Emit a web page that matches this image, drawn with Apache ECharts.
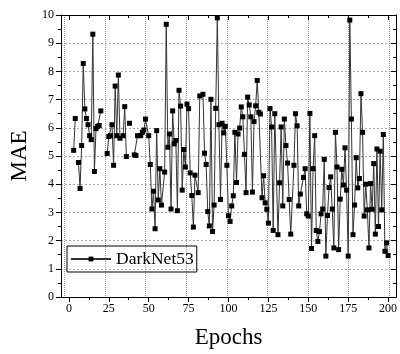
<!DOCTYPE html>
<html>
<head>
<meta charset="utf-8">
<script src="https://cdn.jsdelivr.net/npm/echarts@6/dist/echarts.min.js"></script>
<style>
  html, body { margin: 0; padding: 0; background: #fff; }
  #chart { width: 400px; height: 354px; }
</style>
</head>
<body>
<div id="chart"></div>
<script>
// Validation MAE per training epoch (null = epoch not recorded, line breaks there)
const epochs = [
  3, 4, 5,
  6, 7, 8, 9, 10, 11, 12, 13, 14, 15, 16, 17, 18, 19, 20, 22,
  24, 25, 26, 27, 28, 29, 30, 31, 32, 34, 35, 36, 37,
  38, 39,
  41, 42, 43, 45, 46, 47, 48,
  50, 51, 52, 53, 54, 55, 56, 57, 58, 60, 61, 62, 63, 64, 65, 66, 67, 68, 69, 70,
  71, 72, 73, 74, 75, 76, 77, 78, 79, 81, 82, 84, 85, 86, 87, 88, 89, 90,
  91, 92, 93, 94, 95, 96, 97, 98, 99, 100, 101, 102, 103, 104, 105, 106, 107, 108, 109, 110,
  111, 112, 113, 114, 115, 116, 117, 118, 119, 120, 121, 122, 123, 124, 125, 126, 127, 128, 129, 131,
  132, 133, 134, 135, 136, 137, 138, 139, 141, 142, 143, 144, 145, 147, 148, 149, 150,
  151, 152, 153, 154, 155, 156, 157, 158, 159, 160, 161, 162, 163, 164, 165, 166, 167, 168, 169, 170,
  171, 172, 173, 174, 175, 176, 177, 178, 179, 180, 181, 182, 183, 184, 185, 186, 187, 188, 189, 190,
  191, 192, 193, 194, 195, 196, 197, 198, 199, 200
];
const mae = [
  5.2, 6.33, null,
  4.77, 3.85, 5.37, 8.28, 6.67, 6.33, 6.11, 5.72, 5.58, 9.32, 4.45, 5.97, 6.05, 6.08, 6.6, null,
  5.09, 5.69, 5.72, 6.11, 4.67, 7.48, 5.72, 7.87, 5.63, 5.72, 6.75, 4.98, null,
  6.16, null,
  5.04, 5.02, 5.72, 5.72, 5.84, 5.92, 6.31,
  5.72, 4.7, 3.12, 3.75, 2.42, 5.9, 3.44, 4.55, 3.26, 4.43, 9.67, 5.31, 5.78, 3.12, 6.6, 5.43, 5.55, 3.06, 7.33, 6.77,
  3.79, 5.23, 4.61, 6.84, 6.68, 4.4, 3.6, 2.48, 4.32, 3.7, 7.13, 7.19, 5.1, 4.7, 3.03, 2.52, 7.01, 2.32,
  3.26, 6.69, 9.9, 6.11, 3.46, 6.16, 5.82, 6.05, 4.67, 2.88, 2.68, 3.23, 3.59, 5.84, 4.06, 5.78, 5.99, 6.74, 6.39, 5.06,
  3.7, 7.09, 6.81, 6.39, 3.72, 6.22, 6.78, 7.68, 6.55, 6.49, 3.52, 4.3, 3.34, 3.11, 2.62, 6.68, 6.03, 2.36, 6.5, 2.21,
  4.05, 6.03, 3.23, 6.31, 5.37, 4.75, 3.46, 2.23, 4.67, 6.5, 6.07, 3.23, 3.65, 4.24, 4.55, 2.95, 2.87,
  6.51, 1.72, 4.55, 5.72, 2.36, 1.97, 2.32, 2.95, 3.12, 4.88, 1.45, 2.89, 3.88, 4.26, 3.12, 1.74, 5.84, 4.61, 1.68, 3.47,
  4.53, 3.97, 5.29, 3.79, 1.45, 9.82, 6.31, 2.21, 3.26, 4.94, 3.87, 4.2, 7.21, 5.84, 2.87, 4.0, 3.09, 1.74, 4.02, 3.11,
  4.73, 2.23, 5.25, 2.5, 5.17, 3.09, 5.76, 1.62, 1.92, 1.47
];
const xMajorTicks = [0, 25, 50, 75, 100, 125, 150, 175, 200];
const xMinorTicks = [12.5, 37.5, 62.5, 87.5, 112.5, 137.5, 162.5, 187.5];
const seriesName = 'DarkNet53';

const FONT = 'Liberation Serif, Times New Roman, serif';
const X_MIN = -5, X_MAX = 205;

// plot frame in pixels
const G = { left: 56.5, right: 3, top: 15, bottom: 54.5 };
const plotW = 400 - G.left - G.right;
const pxPerUnit = plotW / (X_MAX - X_MIN);
// inner grid spanning exactly 0..200 so its split lines land on the major epoch ticks
const G2 = {
  left: G.left + (0 - X_MIN) * pxPerUnit,
  right: G.right + (X_MAX - 200) * pxPerUnit,
  top: G.top, bottom: G.bottom
};

function xAxisDef(position, values, len, inside, extra) {
  return Object.assign({
    type: 'value', min: X_MIN, max: X_MAX, position: position, gridIndex: 1,
    axisLine: { show: true, onZero: false, lineStyle: { color: '#000', width: 1 } },
    axisTick: { show: true, inside: inside, length: len, customValues: values,
                lineStyle: { color: '#000', width: 1 } },
    axisLabel: { show: false },
    splitLine: { show: false }
  }, extra || {});
}

function yAxisDef(position, inside, extra) {
  return Object.assign({
    type: 'value', min: 0, max: 10, interval: 1, position: position, gridIndex: 1,
    axisLine: { show: true, onZero: false, lineStyle: { color: '#000', width: 1 } },
    axisTick: { show: true, inside: inside, length: 5, lineStyle: { color: '#000', width: 1 } },
    minorTick: { show: true, splitNumber: 2, length: 3, lineStyle: { color: '#000', width: 1 } },
    axisLabel: { show: false },
    splitLine: { show: false }
  }, extra || {});
}

const chart = echarts.init(document.getElementById('chart'), null, { renderer: 'canvas' });

chart.setOption({
  animation: false,
  grid: [
    Object.assign({ containLabel: false }, G2),
    Object.assign({ containLabel: false }, G)
  ],
  legend: {
    data: [seriesName],
    left: 67, top: 246,
    orient: 'horizontal',
    borderColor: '#000', borderWidth: 1,
    padding: [4, 3, 4, 3],
    itemWidth: 40, itemHeight: 6, itemGap: 4,
    textStyle: { fontFamily: FONT, fontSize: 17.5, color: '#000', padding: [0, 0, 0, 0] }
  },
  xAxis: [
    // vertical dotted grid at each major epoch
    {
      type: 'value', gridIndex: 0, min: 0, max: 200, interval: 25,
      axisLine: { show: false }, axisTick: { show: false }, axisLabel: { show: false },
      splitLine: { show: true, lineStyle: { color: '#999', type: 'dotted', width: 1 } }
    },
    xAxisDef('bottom', xMajorTicks, 5, false, {
      axisLabel: { show: true, customValues: xMajorTicks, margin: 6,
                   fontFamily: FONT, fontSize: 12, color: '#000' },
      name: 'Epochs', nameLocation: 'middle', nameGap: 29,
      nameTextStyle: { fontFamily: FONT, fontSize: 23, color: '#000' }
    }),
    xAxisDef('bottom', xMinorTicks, 3, false),
    xAxisDef('top', xMajorTicks, 5, true),
    xAxisDef('top', xMinorTicks, 3, true)
  ],
  yAxis: [
    {
      type: 'value', gridIndex: 0, min: 0, max: 10,
      axisLine: { show: false }, axisTick: { show: false }, axisLabel: { show: false },
      splitLine: { show: false }
    },
    yAxisDef('left', false, {
      axisLabel: { show: true, margin: 7, fontFamily: FONT, fontSize: 12, color: '#000' },
      splitLine: { show: true, lineStyle: { color: '#a8a8a8', type: [2, 2], width: 1 } },
      name: 'MAE', nameLocation: 'middle', nameGap: 26,
      nameTextStyle: { fontFamily: FONT, fontSize: 23, color: '#000' }
    }),
    yAxisDef('right', true)
  ],
  series: [
    {
      name: seriesName,
      type: 'line', z: 3,
      xAxisIndex: 1, yAxisIndex: 1,
      connectNulls: false,
      symbol: 'rect', symbolSize: 5,
      showAllSymbol: true,
      lineStyle: { color: '#333', width: 1 },
      itemStyle: { color: '#000' },
      data: epochs.map((e, i) => [e, mae[i] === null ? '-' : mae[i]])
    }
  ]
});
</script>
</body>
</html>
